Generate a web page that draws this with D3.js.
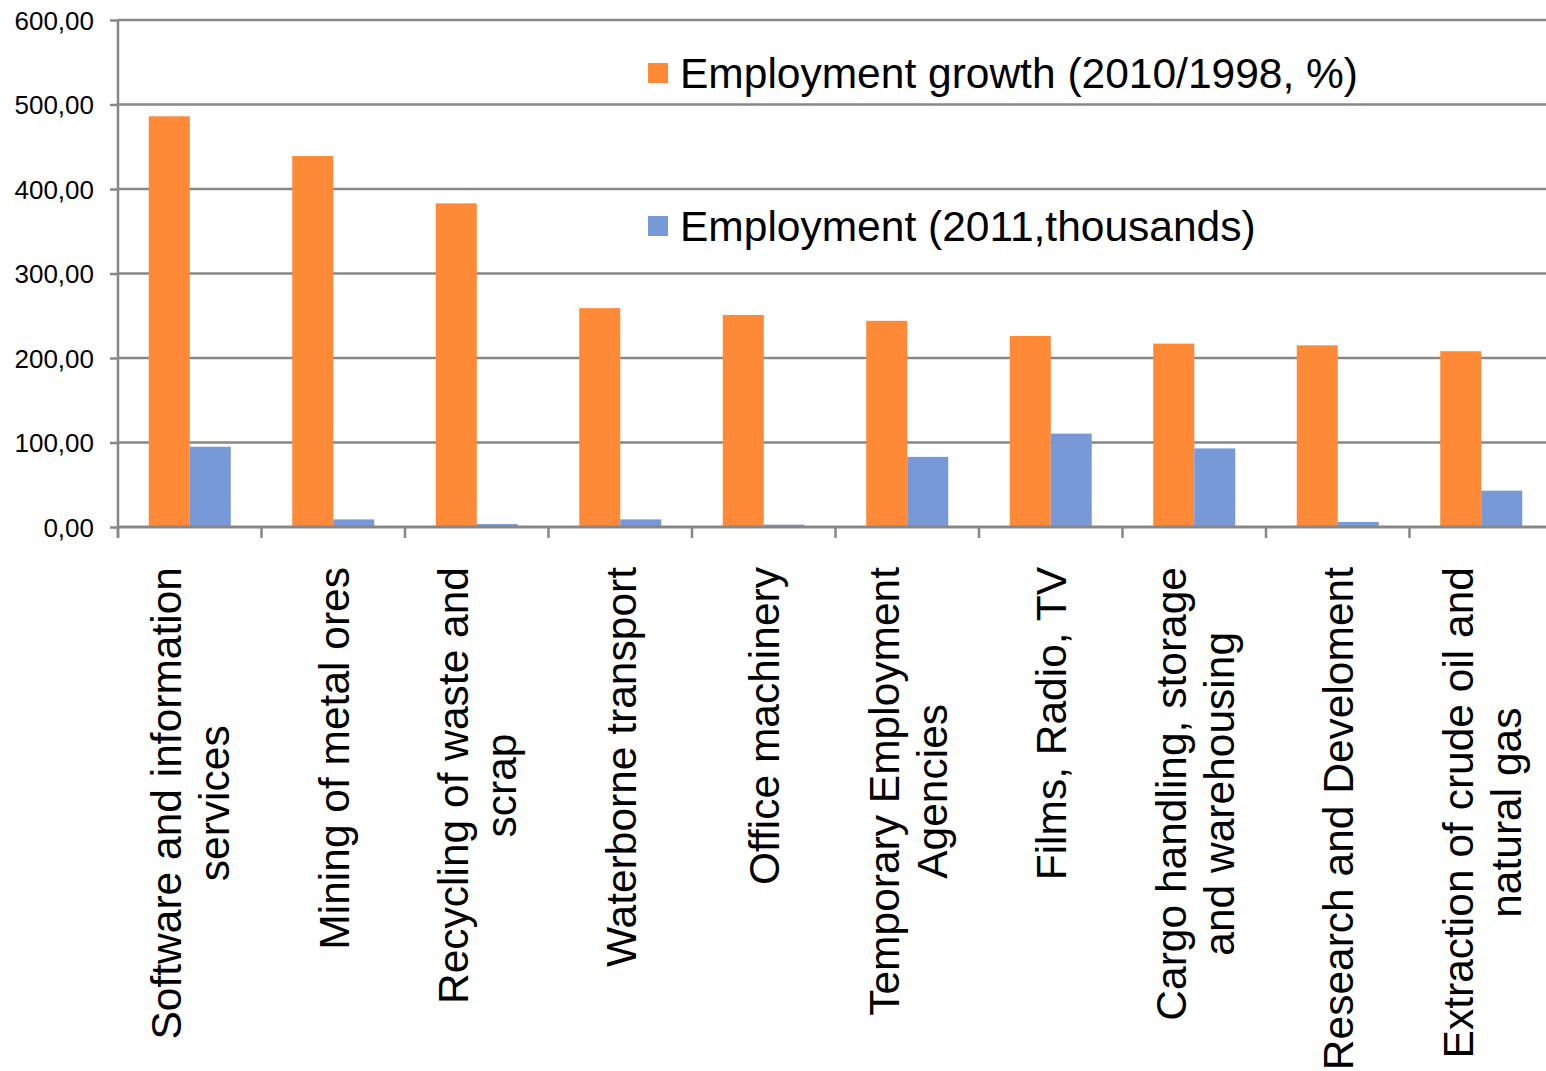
<!DOCTYPE html>
<html><head><meta charset="utf-8">
<script src="https://cdn.jsdelivr.net/npm/d3@7"></script>
<style>body{margin:0;background:#fff;} svg{display:block;font-family:"Liberation Sans",Arial,sans-serif;}</style>
</head><body>
<svg id="c" width="1546" height="1071"></svg>
<script>
const categories = [
  ["Software and information","services"],
  ["Mining of metal ores"],
  ["Recycling of waste and","scrap"],
  ["Waterborne transport"],
  ["Office machinery"],
  ["Temporary Employment","Agencies"],
  ["Films, Radio, TV"],
  ["Cargo handling, storage","and warehousing"],
  ["Research and Develoment"],
  ["Extraction of crude oil and","natural gas"]
];
const growth = [486, 439, 383, 259, 251, 244, 226, 217, 215, 208];
const employment = [95, 9, 3.5, 9, 2.8, 83, 110.5, 93, 6, 43];
const seriesNames = ["Employment growth (2010/1998, %)", "Employment (2011,thousands)"];
const yTicks = [0, 100, 200, 300, 400, 500, 600];
const colors = ["#FE8936", "#7799D7"];

const svg = d3.select("#c");
const pLeft = 118, pRight = 1553, pTop = 20, pBottom = 527;
const x = d3.scaleBand().domain(d3.range(categories.length)).range([pLeft, pRight]).paddingInner(0).paddingOuter(0);
const inner = d3.scaleBand().domain([0,1]).range([0, x.bandwidth()]).paddingInner(0).paddingOuter(0.75);
const y = d3.scaleLinear().domain([0, 600]).range([pBottom, pTop]);
const grid = "#878787";

// gridlines
svg.append("g").selectAll("line").data(yTicks.filter(d=>d>0)).join("line")
  .attr("x1", pLeft).attr("x2", 1546).attr("y1", d=>y(d)).attr("y2", d=>y(d))
  .attr("stroke", grid).attr("stroke-width", 2.5);

// y axis
const yAxis = d3.axisLeft(y).tickValues(yTicks).tickSize(8).tickPadding(16)
  .tickFormat(d => d3.format(".2f")(d).replace(".", ","));
const yg = svg.append("g").attr("transform", `translate(${pLeft},0)`).call(yAxis);
yg.select(".domain").attr("stroke", grid).attr("stroke-width", 2.5).attr("d", `M0,${pTop}V${pBottom+11}`);
yg.selectAll(".tick line").attr("stroke", grid).attr("stroke-width", 2.5);
yg.selectAll(".tick text").attr("font-size", 26).attr("fill", "#000").attr("font-family", "Liberation Sans, Arial, sans-serif").attr("dy", "0.36em");

// bars
const groups = svg.append("g").selectAll("g").data(categories).join("g")
  .attr("transform", (d,i)=>`translate(${x(i)},0)`);
groups.append("rect").attr("x", inner(0)).attr("width", inner.bandwidth())
  .attr("y", (d,i)=>y(growth[i])).attr("height", (d,i)=>pBottom - y(growth[i])).attr("fill", colors[0]);
groups.append("rect").attr("x", inner(1)).attr("width", inner.bandwidth())
  .attr("y", (d,i)=>y(employment[i])).attr("height", (d,i)=>pBottom - y(employment[i])).attr("fill", colors[1]);

// x axis
const xAxis = d3.axisBottom(x).tickSize(0).tickFormat("");
const xg = svg.append("g").attr("transform", `translate(0,${pBottom})`).call(xAxis);
xg.select(".domain").attr("stroke", grid).attr("stroke-width", 3).attr("d", `M${pLeft},0H1546`);
xg.selectAll(".tick").remove();
xg.append("g").selectAll("line").data(d3.range(categories.length)).join("line")
  .attr("x1", d=>x(d)).attr("x2", d=>x(d)).attr("y1", 0).attr("y2", 11)
  .attr("stroke", grid).attr("stroke-width", 2.5);

// category labels
const labTop = 567, lineH = 48, fs = 42.5;
categories.forEach((lines, i) => {
  const cx = x(i) + x.bandwidth()/2;
  const g = svg.append("g").attr("transform", `translate(${cx},${labTop}) rotate(-90)`);
  const texts = lines.map((t, j) => g.append("text").text(t).attr("font-size", fs).attr("fill", "#000")
      .attr("text-anchor", "middle"));
  const maxW = d3.max(texts, t => t.node().getComputedTextLength());
  const n = lines.length;
  texts.forEach((t, j) => {
    t.attr("x", -maxW/2).attr("y", (j - (n-1)/2) * lineH + fs*0.36);
  });
});

// legend
const leg = svg.append("g");
const legY = [73, 226];
seriesNames.forEach((s, i) => {
  leg.append("rect").attr("x", 648).attr("y", legY[i]-10).attr("width", 20).attr("height", 20).attr("fill", colors[i]);
  leg.append("text").attr("x", 680).attr("y", legY[i]).attr("dy", "0.36em").attr("font-size", 42.5).attr("fill", "#000").text(s);
});
</script>
</body></html>
